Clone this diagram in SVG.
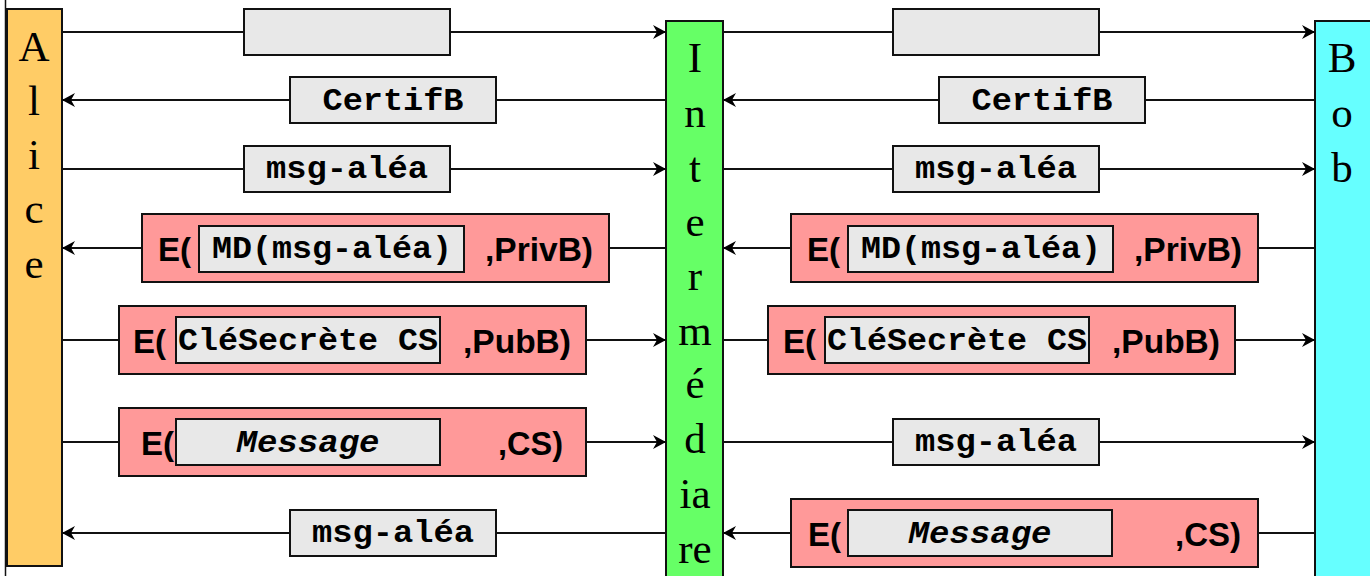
<svg xmlns="http://www.w3.org/2000/svg" width="1370" height="576" viewBox="0 0 1370 576">
<style>
.life{stroke:#111;stroke-width:2}
.name{font-family:"Liberation Serif",serif;font-size:43px;fill:#000;text-anchor:middle}
.conn{stroke:#111;stroke-width:2;fill:none}
.gray{fill:#E8E8E8;stroke:#111;stroke-width:2}
.red{fill:#FF9999;stroke:#111;stroke-width:2}
.mono{font-family:"Liberation Mono",monospace;font-weight:bold;font-size:31px;fill:#000;text-anchor:middle}
.it{font-style:italic}
.sans{font-family:"Liberation Sans",Arial,sans-serif;font-weight:bold;font-size:33px;fill:#000}
</style>
<defs>
<marker id="ah" markerUnits="userSpaceOnUse" markerWidth="14" markerHeight="16" refX="13" refY="8" orient="auto">
<path d="M0,1 L13,8 L0,15 L4,8 z" fill="#000"/>
</marker>
</defs>
<rect width="1370" height="576" fill="#fff"/>
<line x1="5.5" y1="0" x2="5.5" y2="576" stroke="#111" stroke-width="1.5"/>

<g id="alice">
<rect class="life" x="7" y="9" width="55" height="557" fill="#FFCC66"/>
<text class="name" x="34" y="61">A</text>
<text class="name" x="34" y="115">l</text>
<text class="name" x="34" y="169">i</text>
<text class="name" x="34" y="223">c</text>
<text class="name" x="34" y="278">e</text>
</g>
<g id="intermediaire">
<rect class="life" x="666" y="21" width="57" height="565" fill="#66FF66"/>
<text class="name" x="695" y="72">I</text>
<text class="name" x="695" y="127">n</text>
<text class="name" x="695" y="182">t</text>
<text class="name" x="695" y="236">e</text>
<text class="name" x="695" y="290">r</text>
<text class="name" x="695" y="345">m</text>
<text class="name" x="695" y="398">é</text>
<text class="name" x="695" y="453">d</text>
<text class="name" x="695" y="508">ia</text>
<text class="name" x="695" y="563">re</text>
</g>
<g id="bob">
<rect class="life" x="1315" y="21" width="60" height="565" fill="#66FFFF"/>
<text class="name" x="1342" y="72">B</text>
<text class="name" x="1342" y="127">o</text>
<text class="name" x="1342" y="182">b</text>
</g>

<g id="connectors">
<line class="conn" x1="62" y1="32" x2="666" y2="32" marker-end="url(#ah)"/>
<line class="conn" x1="723" y1="32" x2="1315" y2="32" marker-end="url(#ah)"/>
<line class="conn" x1="666" y1="100" x2="62" y2="100" marker-end="url(#ah)"/>
<line class="conn" x1="1315" y1="100" x2="723" y2="100" marker-end="url(#ah)"/>
<line class="conn" x1="62" y1="169" x2="666" y2="169" marker-end="url(#ah)"/>
<line class="conn" x1="723" y1="169" x2="1315" y2="169" marker-end="url(#ah)"/>
<line class="conn" x1="666" y1="248" x2="62" y2="248" marker-end="url(#ah)"/>
<line class="conn" x1="1315" y1="248" x2="723" y2="248" marker-end="url(#ah)"/>
<line class="conn" x1="62" y1="340" x2="666" y2="340" marker-end="url(#ah)"/>
<line class="conn" x1="723" y1="340" x2="1315" y2="340" marker-end="url(#ah)"/>
<line class="conn" x1="62" y1="442" x2="666" y2="442" marker-end="url(#ah)"/>
<line class="conn" x1="723" y1="442" x2="1315" y2="442" marker-end="url(#ah)"/>
<line class="conn" x1="666" y1="533" x2="62" y2="533" marker-end="url(#ah)"/>
<line class="conn" x1="1315" y1="533" x2="723" y2="533" marker-end="url(#ah)"/>
</g>

<g id="msg1-left"><rect class="gray" x="244" y="9" width="206" height="46"/></g>
<g id="msg1-right"><rect class="gray" x="893" y="9" width="206" height="46"/></g>

<g id="msg2-left"><rect class="gray" x="290" y="77" width="206" height="46"/>
<text class="mono" x="393" y="110" textLength="141" lengthAdjust="spacingAndGlyphs">CertifB</text></g>
<g id="msg2-right"><rect class="gray" x="939" y="77" width="206" height="46"/>
<text class="mono" x="1042" y="110" textLength="141" lengthAdjust="spacingAndGlyphs">CertifB</text></g>

<g id="msg3-left"><rect class="gray" x="244" y="146" width="206" height="46"/>
<text class="mono" x="347" y="178" textLength="162" lengthAdjust="spacingAndGlyphs">msg-aléa</text></g>
<g id="msg3-right"><rect class="gray" x="893" y="146" width="206" height="46"/>
<text class="mono" x="996" y="178" textLength="162" lengthAdjust="spacingAndGlyphs">msg-aléa</text></g>

<g id="msg4-left"><rect class="red" x="142" y="214" width="467" height="68"/>
<rect class="gray" x="199" y="226" width="265" height="46"/>
<text class="sans" x="158" y="261">E(</text>
<text class="mono" x="332" y="258" textLength="240" lengthAdjust="spacingAndGlyphs">MD(msg-aléa)</text>
<text class="sans" x="485" y="261" textLength="108" lengthAdjust="spacingAndGlyphs">,PrivB)</text></g>
<g id="msg4-right"><rect class="red" x="791" y="214" width="467" height="68"/>
<rect class="gray" x="848" y="226" width="265" height="46"/>
<text class="sans" x="807" y="261">E(</text>
<text class="mono" x="981" y="258" textLength="240" lengthAdjust="spacingAndGlyphs">MD(msg-aléa)</text>
<text class="sans" x="1134" y="261" textLength="108" lengthAdjust="spacingAndGlyphs">,PrivB)</text></g>

<g id="msg5-left"><rect class="red" x="119" y="306" width="467" height="68"/>
<rect class="gray" x="176" y="317" width="264" height="46"/>
<text class="sans" x="133" y="353">E(</text>
<text class="mono" x="308" y="350" textLength="260" lengthAdjust="spacingAndGlyphs">CléSecrète CS</text>
<text class="sans" x="463" y="353" textLength="108" lengthAdjust="spacingAndGlyphs">,PubB)</text></g>
<g id="msg5-right"><rect class="red" x="768" y="306" width="467" height="68"/>
<rect class="gray" x="825" y="317" width="264" height="46"/>
<text class="sans" x="783" y="353">E(</text>
<text class="mono" x="957" y="350" textLength="260" lengthAdjust="spacingAndGlyphs">CléSecrète CS</text>
<text class="sans" x="1112" y="353" textLength="108" lengthAdjust="spacingAndGlyphs">,PubB)</text></g>

<g id="msg6-left"><rect class="red" x="119" y="408" width="467" height="68"/>
<rect class="gray" x="176" y="419" width="264" height="46"/>
<text class="sans" x="141" y="455">E(</text>
<text class="mono it" x="308" y="452" textLength="143" lengthAdjust="spacingAndGlyphs">Message</text>
<text class="sans" x="498" y="455" textLength="65" lengthAdjust="spacingAndGlyphs">,CS)</text></g>
<g id="msg6-right"><rect class="gray" x="893" y="419" width="206" height="46"/>
<text class="mono" x="996" y="451" textLength="162" lengthAdjust="spacingAndGlyphs">msg-aléa</text></g>

<g id="msg7-left"><rect class="gray" x="290" y="510" width="206" height="46"/>
<text class="mono" x="393" y="542" textLength="162" lengthAdjust="spacingAndGlyphs">msg-aléa</text></g>
<g id="msg7-right"><rect class="red" x="791" y="499" width="467" height="68"/>
<rect class="gray" x="848" y="510" width="264" height="46"/>
<text class="sans" x="808" y="546">E(</text>
<text class="mono it" x="980" y="543" textLength="143" lengthAdjust="spacingAndGlyphs">Message</text>
<text class="sans" x="1175" y="546" textLength="66" lengthAdjust="spacingAndGlyphs">,CS)</text></g>
</svg>
